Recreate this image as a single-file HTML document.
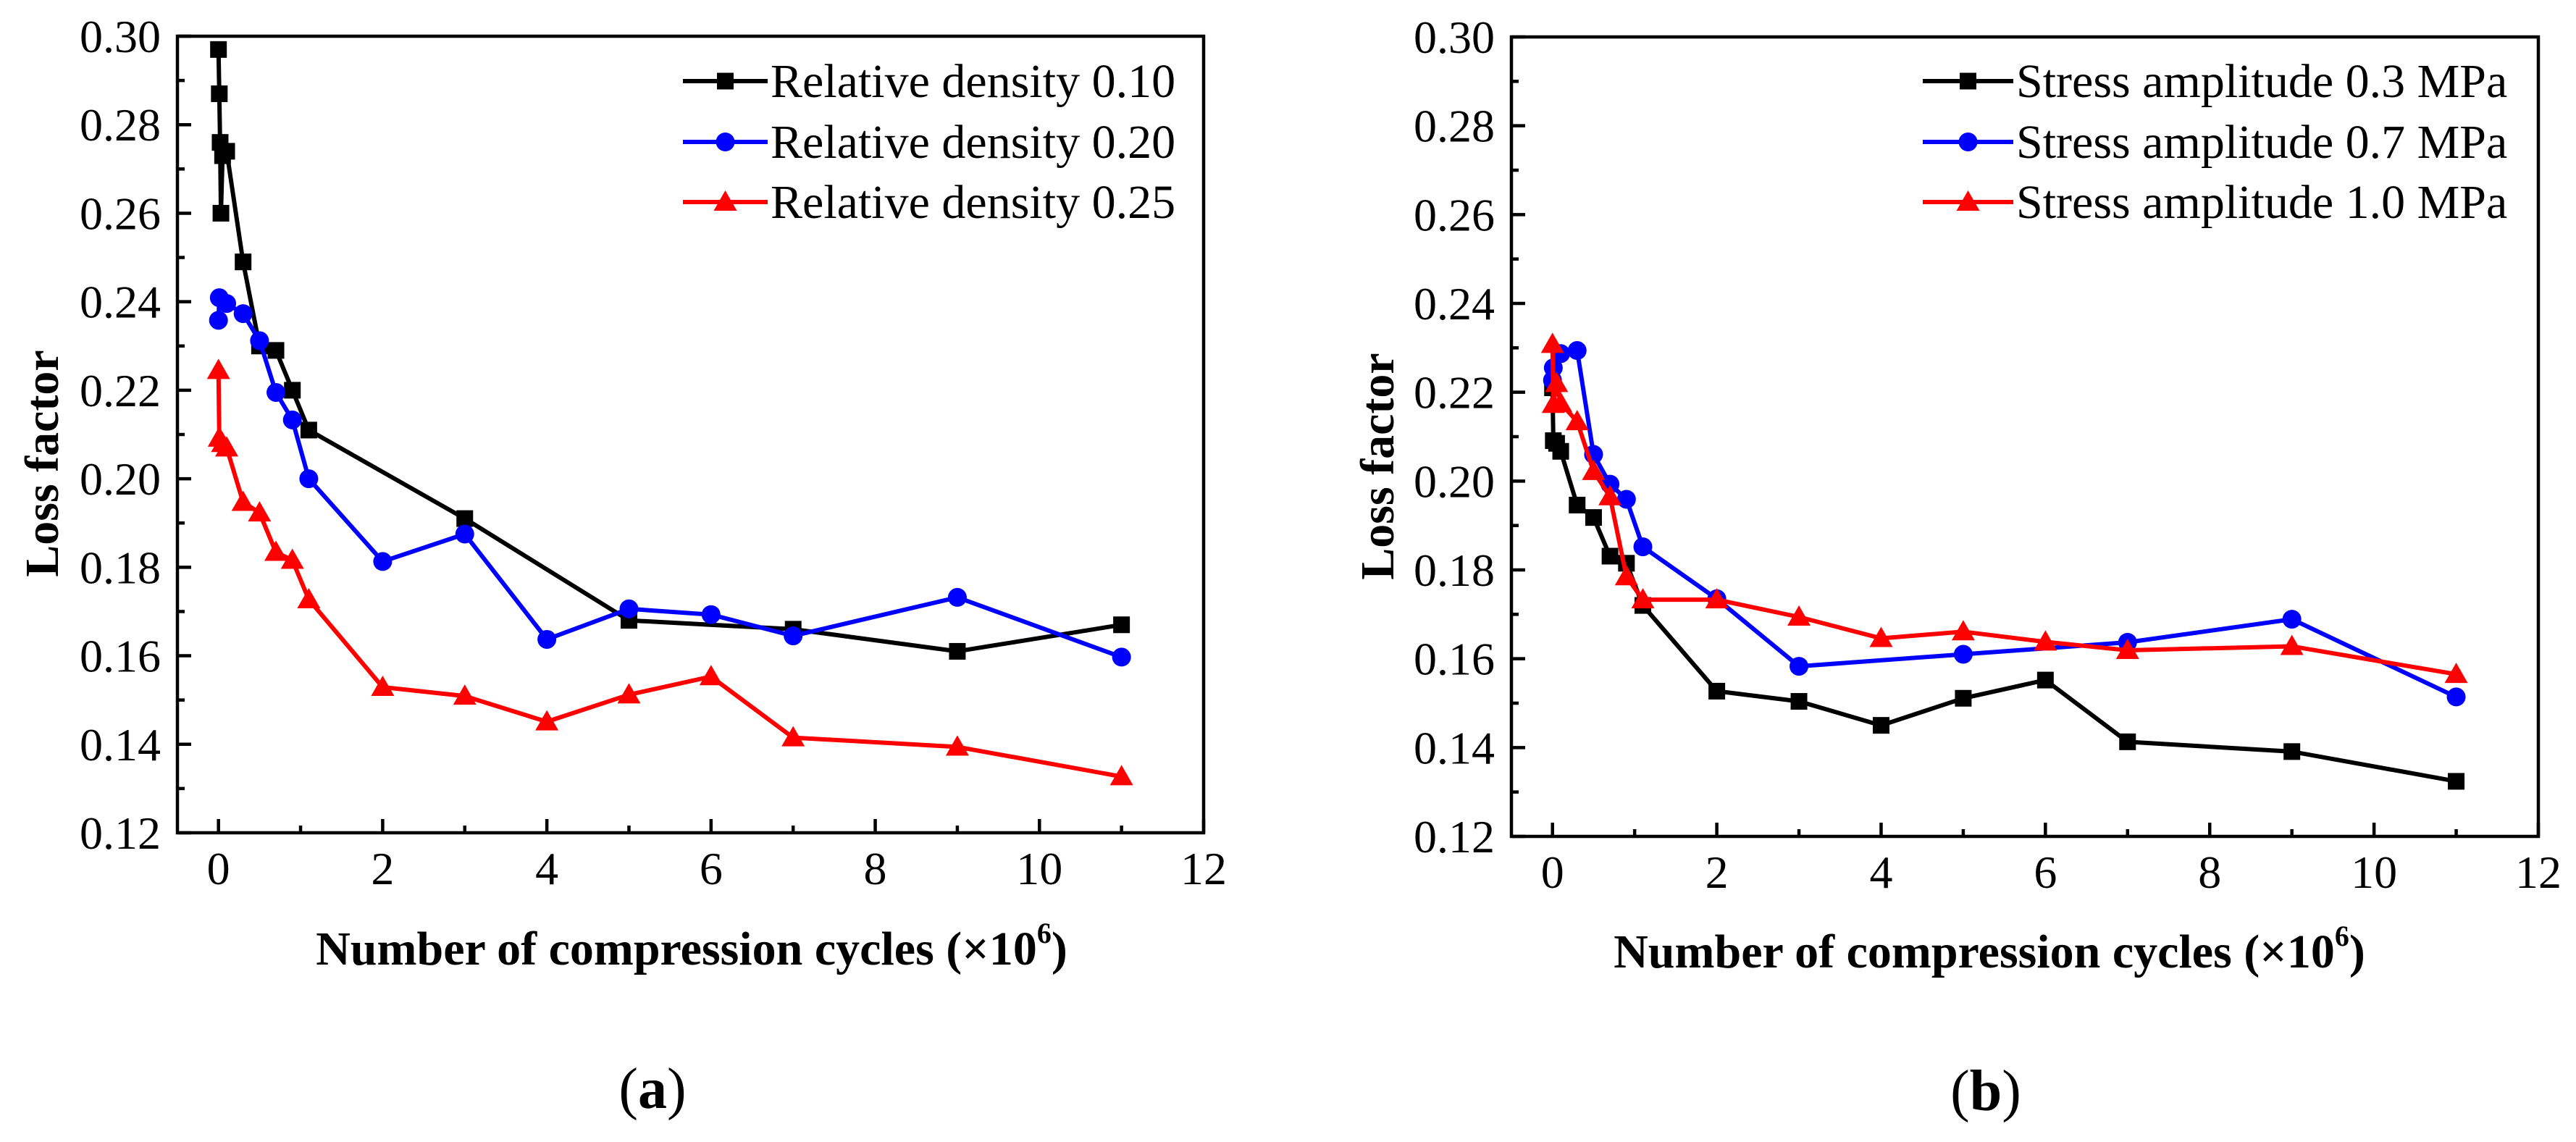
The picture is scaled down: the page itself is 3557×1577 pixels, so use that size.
<!DOCTYPE html>
<html><head><meta charset="utf-8"><style>
html,body{margin:0;padding:0;background:#fff;}
svg{display:block;}
text{font-family:"Liberation Serif","Times New Roman",serif;fill:#000;}
</style></head><body>
<svg id="fig" width="3557" height="1577" viewBox="0 0 3557 1577" xmlns="http://www.w3.org/2000/svg"></svg>
<script>
// Shared axes data
const xTicks = [0, 2, 4, 6, 8, 10, 12];
const yTicks = [0.12, 0.14, 0.16, 0.18, 0.20, 0.22, 0.24, 0.26, 0.28, 0.30];
// Panel (a)
const aBlackX = [0, 0.01, 0.02, 0.03, 0.05, 0.1, 0.3, 0.5, 0.7, 0.9, 1.1, 3, 5, 7, 9, 11];
const aBlackY = [0.297, 0.287, 0.276, 0.260, 0.273, 0.274, 0.249, 0.230, 0.229, 0.220, 0.211, 0.191, 0.168, 0.166, 0.161, 0.167];
const aBlueX = [0, 0.01, 0.1, 0.3, 0.5, 0.7, 0.9, 1.1, 2, 3, 4, 5, 6, 7, 9, 11];
const aBlueY = [0.2358, 0.2409, 0.2396, 0.2373, 0.2312, 0.2195, 0.2133, 0.2000, 0.1813, 0.1875, 0.1637, 0.1706, 0.1693, 0.1645, 0.1732, 0.1597];
const aRedX = [0, 0.01, 0.05, 0.1, 0.3, 0.5, 0.7, 0.9, 1.1, 2, 3, 4, 5, 6, 7, 9, 11];
const aRedY = [0.2245, 0.2092, 0.208, 0.207, 0.1947, 0.1923, 0.1834, 0.1816, 0.1727, 0.1529, 0.1509, 0.1451, 0.1512, 0.1553, 0.1415, 0.1394, 0.1327];
const aLegend = ["Relative density 0.10", "Relative density 0.20", "Relative density 0.25"];
// Panel (b)
const bBlackX = [0, 0.01, 0.05, 0.1, 0.3, 0.5, 0.7, 0.9, 1.1, 2, 3, 4, 5, 6, 7, 9, 11];
const bBlackY = [0.221, 0.2091, 0.2085, 0.2067, 0.1946, 0.1918, 0.1831, 0.1815, 0.1720, 0.1527, 0.1504, 0.1450, 0.1511, 0.1552, 0.1413, 0.1391, 0.1324];
const bBlueX = [0, 0.01, 0.1, 0.3, 0.5, 0.7, 0.9, 1.1, 2, 3, 5, 7, 9, 11];
const bBlueY = [0.2227, 0.2255, 0.2287, 0.2294, 0.2060, 0.1993, 0.1959, 0.1852, 0.1735, 0.1583, 0.1610, 0.1637, 0.1689, 0.1514];
const bRedX = [0, 0.01, 0.05, 0.1, 0.3, 0.5, 0.7, 0.9, 1.1, 2, 3, 4, 5, 6, 7, 9, 11];
const bRedY = [0.2308, 0.2173, 0.222, 0.2175, 0.2134, 0.2022, 0.1965, 0.1785, 0.1733, 0.1733, 0.1694, 0.1646, 0.1661, 0.1638, 0.1619, 0.1628, 0.1565];
const bLegend = ["Stress amplitude 0.3 MPa", "Stress amplitude 0.7 MPa", "Stress amplitude 1.0 MPa"];

const NS = "http://www.w3.org/2000/svg";
const svg = document.getElementById("fig");
function mk(tag, attrs, parent) {
  const e = document.createElementNS(NS, tag);
  for (const k in attrs) e.setAttribute(k, attrs[k]);
  (parent || svg).appendChild(e);
  return e;
}
function marker(g, type, cx, cy, color) {
  let m;
  if (type === "square") m = mk("rect", {x: cx - 11.5, y: cy - 11.5, width: 23, height: 23, fill: color}, g);
  else if (type === "circle") m = mk("circle", {cx: cx, cy: cy, r: 13, fill: color}, g);
  else m = mk("polygon", {points: `${cx},${cy - 16} ${cx - 16},${cy + 12} ${cx + 16},${cy + 12}`, fill: color}, g);
  return m;
}

function panel(p) {
  const g = mk("g", {});
  
  
  const sx = v => p.x0 + (v - (-0.5)) / 12.5 * (p.x1 - p.x0);
  const sy = v => p.y1 - (v - 0.12) / 0.18 * (p.y1 - p.y0);
  // series
  p.series.forEach((s, si) => {
    const sg = mk("g", {}, g);
    
    
    const pts = s.xs.map((x, i) => sx(x).toFixed(1) + "," + sy(s.ys[i]).toFixed(1)).join(" ");
    const pl = mk("polyline", {points: pts, fill: "none", stroke: s.color, "stroke-width": 6, "stroke-linejoin": "round"}, sg);
    
    
    s.xs.forEach((x, i) => {
      const m = marker(sg, s.marker, sx(x), sy(s.ys[i]), s.color);
      
      
    });
    // legend entry
    const ly = p.legY[si];
    const lg = mk("g", {}, g);
    
    
    mk("line", {x1: p.legX0, y1: ly, x2: p.legX1, y2: ly, stroke: s.color, "stroke-width": 6}, lg);
    marker(lg, s.marker, (p.legX0 + p.legX1) / 2, ly, s.color);
    const t = mk("text", {x: p.legX1 + 4, y: ly + 22, "font-size": 66}, lg);
    t.textContent = p.legend[si];
  });
  // frame
  const fr = mk("rect", {x: p.x0, y: p.y0, width: p.x1 - p.x0, height: p.y1 - p.y0, fill: "none", stroke: "#000", "stroke-width": 4.5}, g);
  
  
  // x ticks
  for (let v = 0; v <= 12; v += 1) {
    const major = v % 2 === 0;
    mk("line", {x1: sx(v), y1: p.y1, x2: sx(v), y2: p.y1 - (major ? 19 : 10), stroke: "#000", "stroke-width": 4.5}, g);
  }
  xTicks.forEach(v => {
    const t = mk("text", {x: sx(v), y: p.xLabY, "font-size": 64, "text-anchor": "middle"}, g);
    
    
    t.textContent = String(v);
  });
  // y ticks
  for (let i = 0; i <= 18; i++) {
    const v = 0.12 + i * 0.01;
    const major = i % 2 === 0;
    mk("line", {x1: p.x0, y1: sy(v), x2: p.x0 + (major ? 19 : 10), y2: sy(v), stroke: "#000", "stroke-width": 4.5}, g);
  }
  yTicks.forEach(v => {
    const t = mk("text", {x: p.yLabX, y: sy(v) + 22, "font-size": 64, "text-anchor": "end"}, g);
    
    
    t.textContent = v.toFixed(2);
  });
  // axis titles
  const xt = mk("text", {x: p.xTitleX, y: p.xTitleY, "font-size": 66, "font-weight": "bold", "text-anchor": "middle"}, g);
  
  
  xt.innerHTML = 'Number of compression cycles (×10<tspan dy="-30" font-size="40">6</tspan><tspan dy="30">)</tspan>';
  const yt = mk("text", {x: 0, y: 0, "font-size": 66, "font-weight": "bold", "text-anchor": "middle", transform: `translate(${p.yTitleX},${p.yTitleY}) rotate(-90)`}, g);
  
  
  yt.textContent = "Loss factor";
  const cap = mk("text", {x: p.capX, y: p.capY, "font-size": 80, "text-anchor": "middle"}, g);
  
  
  cap.innerHTML = '(<tspan font-weight="bold">' + p.cap + '</tspan>)';
}

panel({
  name: "panel-a", x0: 245, x1: 1662, y0: 50, y1: 1150,
  xLabY: 1221, yLabX: 222, xTitleX: 955, xTitleY: 1332, yTitleX: 80, yTitleY: 640,
  capX: 901, capY: 1530, cap: "a",
  legX0: 943, legX1: 1060, legY: [112, 196, 279], legend: aLegend,
  series: [
    {key: "density-0-10", xs: aBlackX, ys: aBlackY, color: "#000", marker: "square"},
    {key: "density-0-20", xs: aBlueX, ys: aBlueY, color: "#0000ff", marker: "circle"},
    {key: "density-0-25", xs: aRedX, ys: aRedY, color: "#ff0000", marker: "triangle"}
  ]
});
panel({
  name: "panel-b", x0: 2087, x1: 3505, y0: 51, y1: 1155,
  xLabY: 1226, yLabX: 2064, xTitleX: 2747, xTitleY: 1336, yTitleX: 1924, yTitleY: 644,
  capX: 2742, capY: 1533, cap: "b",
  legX0: 2655, legX1: 2780, legY: [112, 196, 279], legend: bLegend,
  series: [
    {key: "stress-0-3", xs: bBlackX, ys: bBlackY, color: "#000", marker: "square"},
    {key: "stress-0-7", xs: bBlueX, ys: bBlueY, color: "#0000ff", marker: "circle"},
    {key: "stress-1-0", xs: bRedX, ys: bRedY, color: "#ff0000", marker: "triangle"}
  ]
});
</script>
</body></html>
